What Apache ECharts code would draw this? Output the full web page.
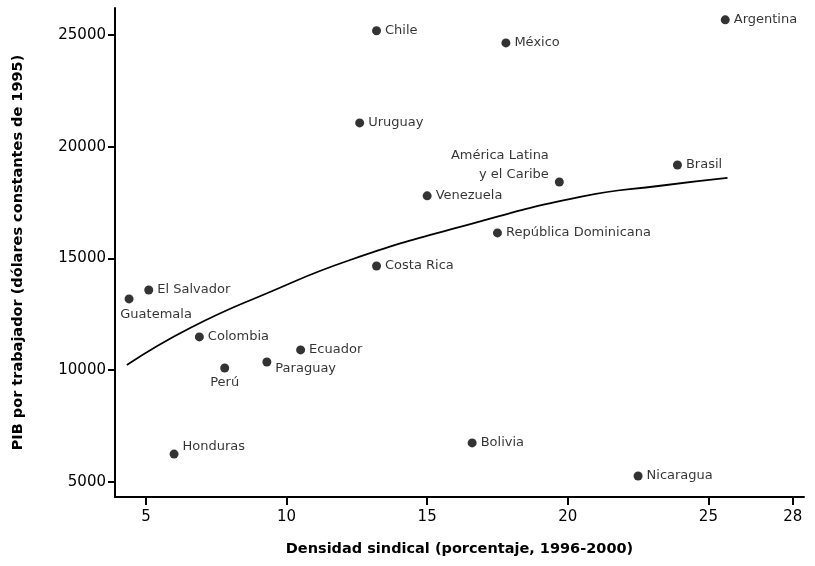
<!DOCTYPE html>
<html>
<head>
<meta charset="utf-8">
<script src="https://cdn.jsdelivr.net/npm/echarts@6/dist/echarts.min.js"></script>
<style>html,body{margin:0;padding:0;background:#fff;}#c{width:815px;height:566px;}</style>
</head>
<body>
<div id="c"></div>
<script>
// Data
var countries = ["Argentina","Chile","México","Uruguay","América Latina\ny el Caribe","Brasil","Venezuela","República Dominicana","Costa Rica","El Salvador","Guatemala","Colombia","Perú","Paraguay","Ecuador","Honduras","Bolivia","Nicaragua"];
var density = [25.6,13.2,17.8,12.6,19.7,23.9,15.0,17.5,13.2,5.1,4.4,6.9,7.8,9.3,10.5,6.0,16.6,22.5];
var pib = [25670,25180,24640,21060,18420,19180,17800,16140,14660,13590,13190,11490,10100,10370,10910,6250,6750,5270];
var trendX = [4.32,6.57,9.41,12.26,16.17,20.44,23.29,25.68];
var trendY = [10235,11890,13500,14930,16410,17750,18250,18600];
var xTicks = [5,10,15,20,25,28];
var yTicks = [5000,10000,15000,20000,25000];

// label placement (style, kept separate from data)
var labelPlace = {
  "América Latina\ny el Caribe": {position:'left', align:'right', offset:[-2,-17], lineHeight:19},
  "Guatemala": {position:'bottom', offset:[27,1]},
  "Perú": {position:'bottom', offset:[0,0]},
  "Honduras": {position:'right', offset:[0,-7]},
  "Paraguay": {position:'right', offset:[0,7]}
};

var pts = countries.map(function(n,i){
  var d = {name:n, value:[density[i], pib[i]]};
  if (labelPlace[n]) d.label = labelPlace[n];
  return d;
});
var trend = trendX.map(function(x,i){return [x, trendY[i]];});

var chart = echarts.init(document.getElementById('c'));
var font = 'DejaVu Sans';
chart.setOption({
  animation:false,
  backgroundColor:'#fff',
  grid:{left:115, right:11, top:8, bottom:69},
  xAxis:{
    type:'value', min:3.9, max:28.4,
    splitLine:{show:false},
    axisLine:{lineStyle:{color:'#000', width:2}},
    axisTick:{customValues:xTicks, length:8, lineStyle:{color:'#000', width:2}},
    axisLabel:{customValues:xTicks, color:'#000', fontSize:15, fontFamily:font, margin:13},
    name:'Densidad sindical (porcentaje, 1996-2000)',
    nameLocation:'middle', nameGap:45,
    nameTextStyle:{color:'#000', fontSize:14.5, fontWeight:'bold', fontFamily:font}
  },
  yAxis:{
    type:'value', min:4330, max:26200,
    splitLine:{show:false},
    axisLine:{lineStyle:{color:'#000', width:2}},
    axisTick:{customValues:yTicks, length:7, lineStyle:{color:'#000', width:2}},
    axisLabel:{customValues:yTicks, color:'#000', fontSize:15, fontFamily:font, margin:9,
      formatter:function(v){return String(v);}},
    name:'PIB por trabajador (dólares constantes de 1995)',
    nameLocation:'middle', nameGap:89, nameRotate:90,
    nameTextStyle:{color:'#000', fontSize:14.5, fontWeight:'bold', fontFamily:font}
  },
  series:[
    {
      type:'line', data:trend, smooth:true, showSymbol:false, silent:true,
      lineStyle:{color:'#000', width:1.8}
    },
    {
      type:'scatter', data:pts, symbol:'circle', symbolSize:9,
      itemStyle:{color:'#000'},
      label:{show:true, position:'right', distance:4, formatter:'{b}', color:'#000', fontSize:13, fontFamily:font}
    }
  ]
});
</script>
</body>
</html>
